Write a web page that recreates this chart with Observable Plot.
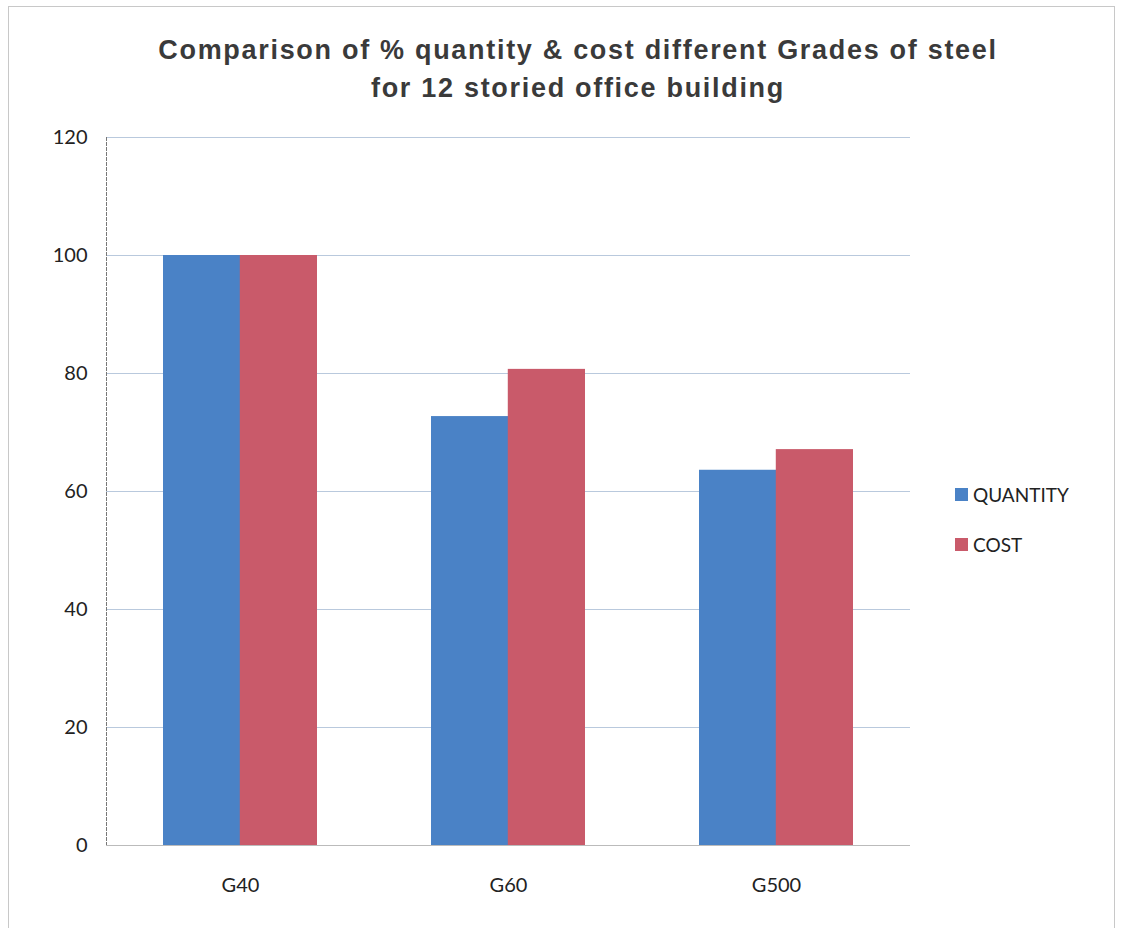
<!DOCTYPE html>
<html><head><meta charset="utf-8">
<script src="https://cdn.jsdelivr.net/npm/d3@7"></script>
<script src="https://cdn.jsdelivr.net/npm/@observablehq/plot@0.6"></script>
<style>
body{margin:0;background:#fff;}
#wrap{position:relative;width:1122px;height:928px;overflow:hidden;font-family:Lato,"Open Sans",sans-serif;}
#frame{position:absolute;left:8px;top:6px;width:1105px;height:960px;border:1px solid #c8c8c8;}
#title{position:absolute;left:0;width:1156px;top:31px;text-align:center;font-family:"Liberation Sans",Arial,sans-serif;font-weight:bold;font-size:27px;letter-spacing:1.7px;line-height:38px;color:#3a3a3a;}
#chart{position:absolute;left:0;top:0;}
.leg{position:absolute;left:955px;font-size:19px;color:#222;display:flex;align-items:center;}
.leg span.sw{display:inline-block;width:13px;height:13px;margin-right:5px;}
</style></head>
<body><div id="wrap"><div id="frame"></div><div id="title"></div><div id="chart"></div><div id="legend"></div></div>
<script>
const titleLines = ["Comparison of % quantity & cost different Grades of steel", "for 12 storied office building"];
const grades = ["G40", "G60", "G500"];
const series = ["QUANTITY", "COST"];
const quantity = [100, 72.7, 63.6];
const cost = [100, 80.7, 67.1];
const yTicks = [0, 20, 40, 60, 80, 100, 120];
const colors = ["#4a82c6", "#c95a6a"];

const qData = grades.map((g, i) => ({grade: g, series: series[0], value: quantity[i]}));
const cData = grades.map((g, i) => ({grade: g, series: series[1], value: cost[i]}));

document.getElementById("title").innerHTML = titleLines.join("<br>");

const plotLeft = 106, plotRight = 910, pad = 0.427;
const step = (plotRight - plotLeft) / grades.length;
const half = step * (1 - pad) / 2;

const chart = Plot.plot({
  width: 1122,
  height: 928,
  marginTop: 137,
  marginBottom: 83,
  marginLeft: plotLeft,
  marginRight: 1122 - plotRight,
  style: {fontFamily: "Lato, 'Open Sans', sans-serif", fontSize: "20px", color: "#222", background: "transparent"},
  x: {domain: grades, paddingInner: pad, paddingOuter: pad / 2, label: null},
  y: {domain: [0, 120], ticks: yTicks, label: null},
  color: {domain: series, range: colors},
  marks: [
    Plot.gridY(yTicks, {stroke: "#b9c9dd", strokeOpacity: 1, strokeWidth: 1.2}),
    Plot.barY(qData, {x: "grade", y: "value", fill: "series", inset: 0, insetRight: half}),
    Plot.barY(cData, {x: "grade", y: "value", fill: "series", inset: 0, insetLeft: half}),
    Plot.axisY(yTicks, {tickSize: 0, tickPadding: 19, label: null, fontSize: 20}),
    Plot.frame({anchor: "left", stroke: "#777", strokeDasharray: "3,2"}),
    Plot.ruleY([0], {stroke: "#bbb"}),
    Plot.axisX(grades, {tickSize: 0, tickPadding: 32, label: null, fontSize: 20})
  ]
});
document.getElementById("chart").appendChild(chart);

const leg = document.getElementById("legend");
series.forEach((s, i) => {
  const d = document.createElement("div");
  d.className = "leg";
  d.style.top = (483 + i * 50) + "px";
  d.innerHTML = `<span class="sw" style="background:${colors[i]}"></span>${s}`;
  leg.appendChild(d);
});
</script></body></html>
